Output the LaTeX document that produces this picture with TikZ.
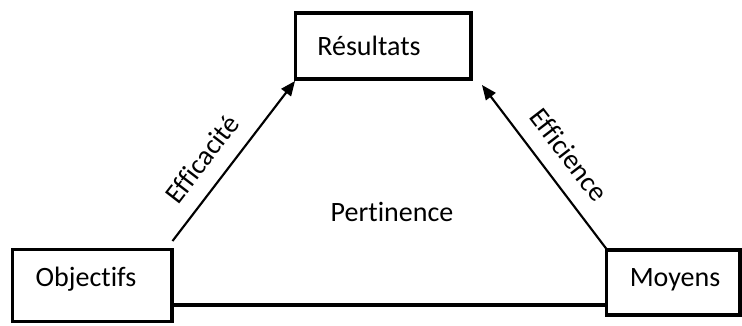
\documentclass[tikz,border=0pt]{standalone}
\usepackage{fontspec}
\setmainfont{Carlito}[Ligatures=NoCommon]
\usetikzlibrary{arrows.meta}
\begin{document}
\begin{tikzpicture}[x=0.75pt,y=-0.75pt,
  box/.style={draw=black, line width=2.3pt, inner sep=0pt, minimum width=#1},
  lbl/.style={font=\fontsize{21}{25}\selectfont, inner sep=0pt},
  link/.style={draw=black, line width=1.6pt, -{Triangle[length=11pt,width=9pt]}},
  base/.style={draw=black, line width=2.3pt}]
\useasboundingbox (0,0) rectangle (742,325);

% the three boxes
\node[box=175.5*0.75pt, minimum height=66*0.75pt] (res) at (383.25,46) {};
\node[box=159.5*0.75pt, minimum height=72*0.75pt] (obj) at (92.25,285.5) {};
\node[box=133.5*0.75pt, minimum height=65*0.75pt] (moy) at (673.25,282.5) {};

% box texts
\node[lbl] (tres) at (369,46) {Résultats};
\node[lbl] (tobj) at (86,279) {Objectifs};
\node[lbl] (tmoy) at (675,280) {Moyens};
\node[lbl] (tper) at (392,212) {Pertinence};

% arrows towards the results
\coordinate (a1) at (172.5,241);
\coordinate (b1) at (295,81);
\coordinate (a2) at (606.5,249);
\coordinate (b2) at (482,85);
\draw[link] (a1) -- (b1);
\draw[link] (a2) -- (b2);

% arrow labels
\node[lbl, rotate=52.4] (teff) at (202,159) {Efficacité};
\node[lbl, rotate=-52.4] (tefn) at (569,155) {Efficience};

% base line between objectives and means
\draw[base] (obj.east |- 0,305) -- (moy.west |- 0,305);
\end{tikzpicture}
\end{document}
